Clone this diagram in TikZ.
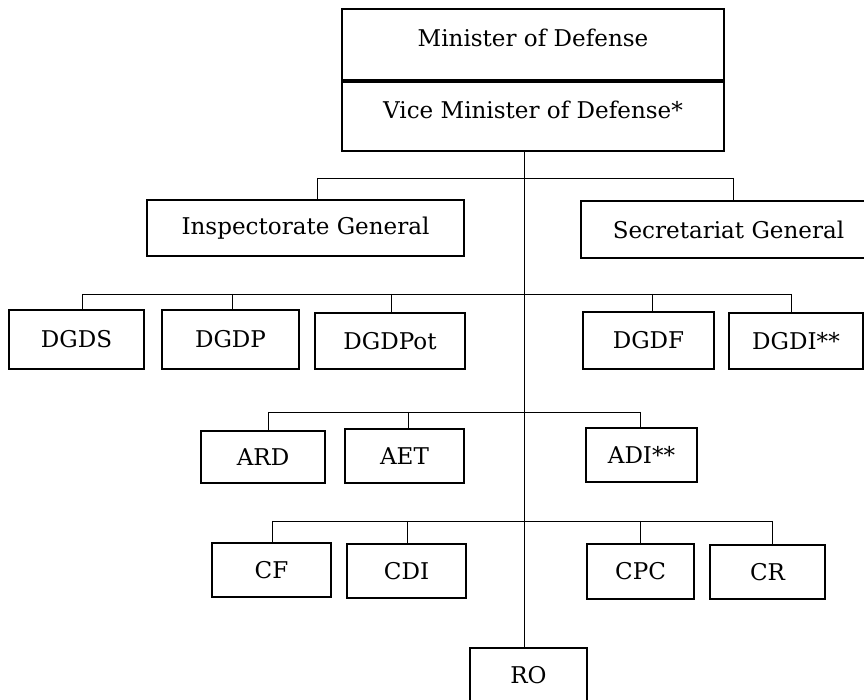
\documentclass[tikz,border=0pt]{standalone}
\usepackage{fontspec}
\setmainfont{DejaVu Serif}
\usetikzlibrary{positioning}

\begin{document}
\begin{tikzpicture}[font=\fontsize{16.4}{19}\selectfont,
  unit/.style={draw, line width=1.5pt, inner sep=0pt, minimum height=1.35cm},
  head/.style={unit, minimum width=9.55cm, text depth=0.35cm},
  link/.style={line width=0.6pt}]
  \useasboundingbox (0,0) rectangle (21.6,17.5);
  % ministry
  \node[head, minimum height=1.775cm] (min) at (13.325,16.3875) {Minister of Defense};
  \node[head, minimum height=1.725cm, below=0pt of min] (vice) {Vice Minister of Defense*};
  % general bodies
  \node[unit, minimum width=7.925cm, minimum height=1.4cm] (insp) at (7.6375,11.8) {Inspectorate General};
  \node[unit, minimum width=7.375cm, minimum height=1.425cm] (secr) at (18.2125,11.7625) {Secretariat General};
  % directorates general
  \node[unit, minimum width=3.375cm, minimum height=1.475cm] (dgds) at (1.9125,9.0125) {DGDS};
  \node[unit, minimum width=3.425cm, minimum height=1.475cm] (dgdp) at (5.7625,9.0125) {DGDP};
  \node[unit, minimum width=3.75cm, minimum height=1.4cm] (dgdpot) at (9.75,8.975) {DGDPot};
  \node[unit, minimum width=3.275cm, minimum height=1.425cm] (dgdf) at (16.2125,8.9875) {DGDF};
  \node[unit, minimum width=3.35cm, minimum height=1.4cm] (dgdi) at (19.9,8.975) {DGDI**};
  % agencies
  \node[unit, minimum width=3.1cm, minimum height=1.3cm] (ard) at (6.575,6.075) {ARD};
  \node[unit, minimum width=2.975cm] (aet) at (10.1125,6.1) {AET};
  \node[unit, minimum width=2.775cm] (adi) at (16.0375,6.125) {ADI**};
  % commands
  \node[unit, minimum width=2.975cm] (cf) at (6.7875,3.25) {CF};
  \node[unit, minimum width=2.975cm] (cdi) at (10.1625,3.225) {CDI};
  \node[unit, minimum width=2.675cm, minimum height=1.375cm] (cpc) at (16.0125,3.2125) {CPC};
  \node[unit, minimum width=2.875cm] (cr) at (19.1875,3.2) {CR};
  \node[unit, minimum width=2.925cm] (ro) at (13.2125,0.625) {RO};
  % trunk and buses
  \coordinate (trunk) at (13.1,0);
  \coordinate (bus1) at (0,13.05);
  \coordinate (bus2) at (0,10.15);
  \coordinate (bus3) at (0,7.2);
  \coordinate (bus4) at (0,4.475);
  \draw[link] (vice.south -| trunk) -- (ro.north -| trunk);
  \draw[link] (7.925,0 |- bus1) -- (18.325,0 |- bus1);
  \foreach \n/\x in {insp/7.925, secr/18.325}
    \draw[link] (\x,0 |- bus1) -- (\x,0 |- \n.north);
  \draw[link] (2.05,0 |- bus2) -- (19.775,0 |- bus2);
  \foreach \n/\x in {dgds/2.05, dgdp/5.8, dgdpot/9.775, dgdf/16.3, dgdi/19.775}
    \draw[link] (\x,0 |- bus2) -- (\x,0 |- \n.north);
  \draw[link] (6.7,0 |- bus3) -- (16.0,0 |- bus3);
  \foreach \n/\x in {ard/6.7, aet/10.2, adi/16.0}
    \draw[link] (\x,0 |- bus3) -- (\x,0 |- \n.north);
  \draw[link] (6.8,0 |- bus4) -- (19.3,0 |- bus4);
  \foreach \n/\x in {cf/6.8, cdi/10.175, cpc/16.0, cr/19.3}
    \draw[link] (\x,0 |- bus4) -- (\x,0 |- \n.north);
\end{tikzpicture}
\end{document}
